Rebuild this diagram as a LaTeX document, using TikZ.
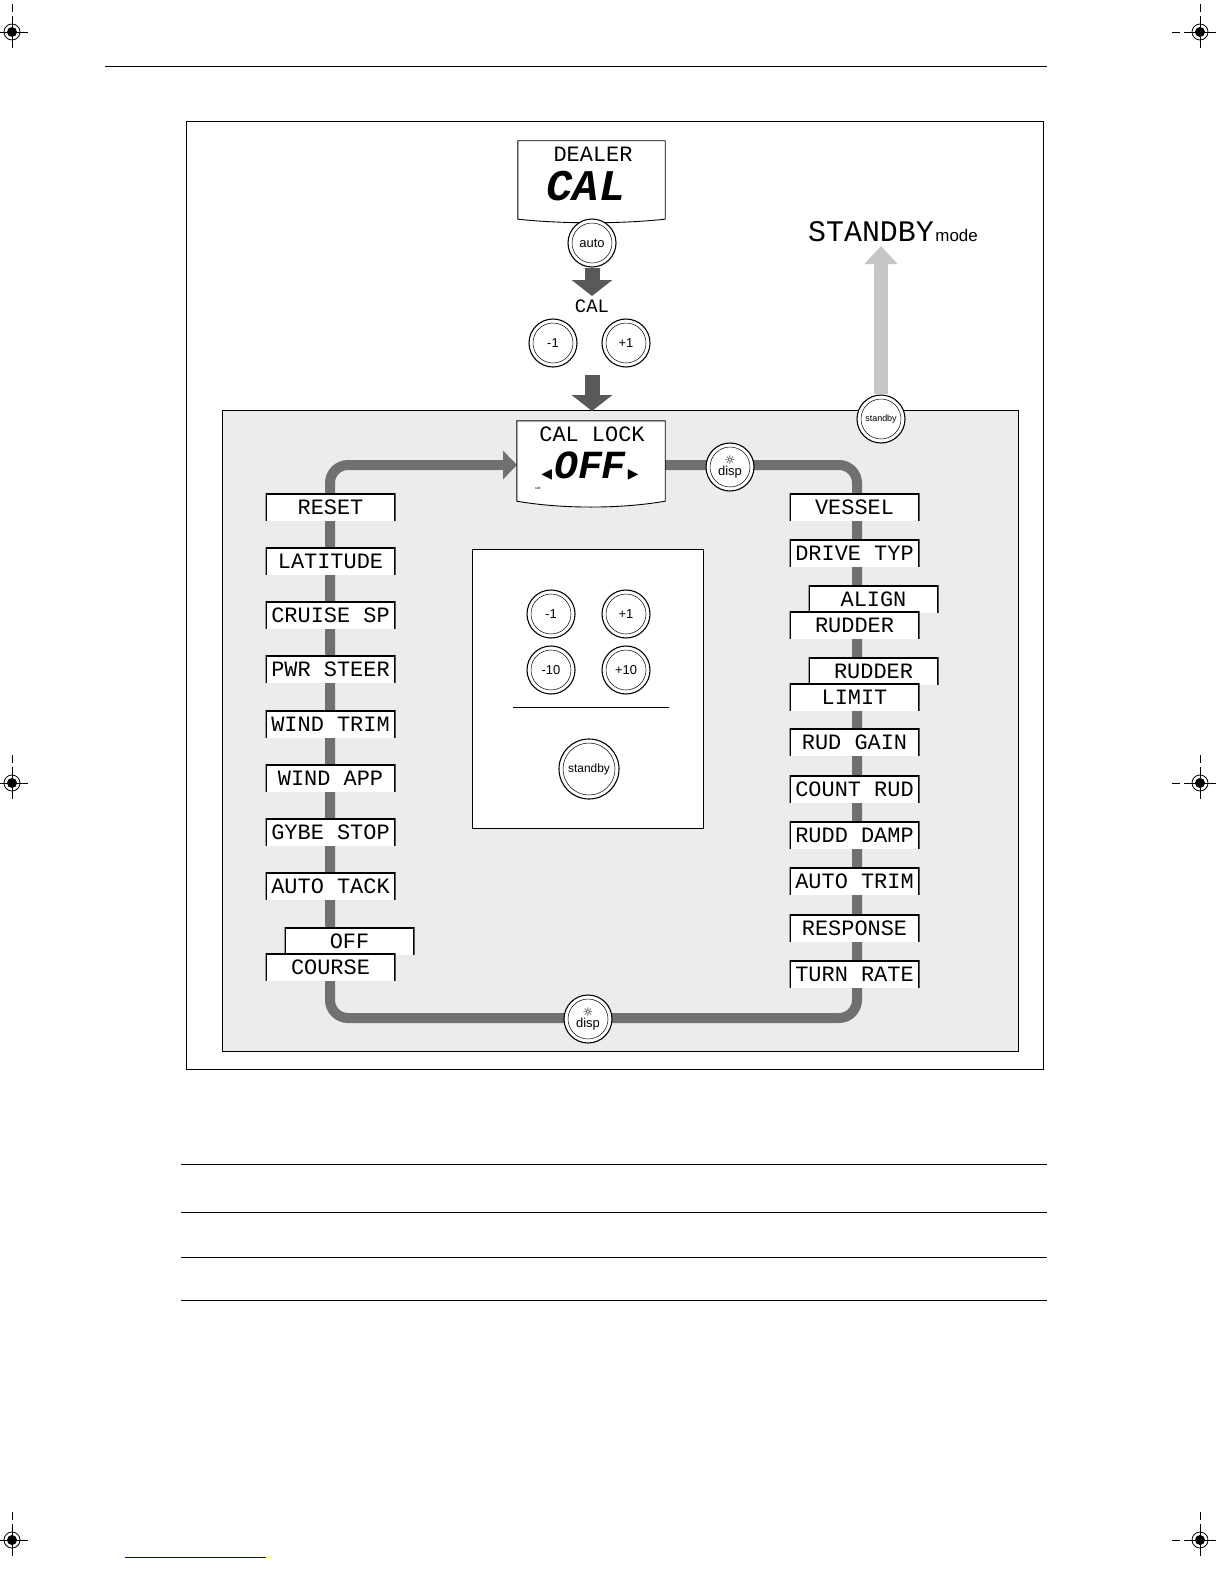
\documentclass[tikz,border=0pt]{standalone}
\usepackage{fontspec}
\setmainfont{Liberation Sans}
\newfontfamily\lcd{Liberation Mono}
\newfontfamily\symf{DejaVu Sans}
\usetikzlibrary{arrows.meta,positioning}
\tikzset{%
lcdbox/.style={minimum width=130bp, minimum height=27bp, inner sep=0pt, fill=white,
  font=\lcd\fontsize{22}{22}\selectfont,
  path picture={\draw[line width=2.4pt] (path picture bounding box.south west) |- (path picture bounding box.north east) -- (path picture bounding box.south east);}},
btn/.style={circle, draw=black, line width=1.1pt, fill=white, minimum size=48bp, inner sep=0pt,
  font=\fontsize{13}{13}\selectfont},
loopline/.style={draw=gray!75!black!90, line width=10bp, rounded corners=18bp},
blockarrow/.style={draw=gray!70!black, line width=15bp, -{Triangle[length=16bp,width=40bp]}},
screen/.style={draw=black, line width=.9pt, fill=white},
regmark/.style={line width=.8pt}
}
\begin{document}
\begin{tikzpicture}[x=1bp,y=-1bp]
\useasboundingbox (0,0) rectangle (1224,1584);
% page furniture
\draw[line width=.8pt] (105,66) -- (1047,66);
\foreach \yy in {1164,1212,1257,1300} \draw[line width=.8pt] (181,\yy) -- (1047,\yy);
\draw[blue!60!black, line width=.8pt] (125,1557) -- (266,1557);
\foreach \xx/\yy in {12/32,1200/32,12/783,1200/783,12/1540,1200/1540}{
  \draw[regmark] (\xx,\yy) circle (8bp);
  \fill (\xx,\yy) circle (5bp);
  \draw[regmark] (\xx-16,\yy) -- (\xx+16,\yy) (\xx,\yy-16) -- (\xx,\yy+16);
  \draw[regmark] (\xx-20,\yy) -- (\xx-28,\yy) (\xx,\yy-20) -- (\xx,\yy-28);
}
\draw[line width=.8pt] (186,121) rectangle (1043,1069);
\fill[gray!15] (222,410) rectangle (1018,1051);
\draw[line width=.8pt] (222,410) rectangle (1018,1051);

% top display
\node (dealer) [minimum width=147bp, minimum height=78bp, inner sep=0pt] at (591.5,180) {};
\draw[screen] (dealer.north west) -- (dealer.north east) -- (dealer.south east)
  .. controls (620,224) and (563,224) .. (dealer.south west) -- cycle;
\node[font=\lcd\fontsize{22}{22}\selectfont] at (593,154) {DEALER};
\node[font=\lcd\bfseries\itshape\fontsize{44}{44}\selectfont] at (586,186) {CAL};
\node[btn] (auto) at (592,243) {auto};
\coordinate (a1) at (592,268);
\coordinate (a2) at (592,296);
\draw[blockarrow] (a1) -- (a2);
\node[font=\lcd\fontsize{19}{19}\selectfont] (caltxt) at (592,306) {CAL};
\node[btn] (minus) at (553,343) {-1};
\node[btn] (plus) at (626,343) {+1};
\coordinate (b1) at (592,375);
\coordinate (b2) at (592,411);
\draw[blockarrow] (b1) -- (b2);

% standby exit
\node[btn] (sby) at (881,419) {\fontsize{9}{9}\selectfont standby};
\coordinate (smode) at (881,246);
\draw[draw=gray!45, line width=14bp, -{Triangle[length=18bp,width=32bp]}] (sby.north) -- (smode);
\node[anchor=west, inner sep=0pt] (stxt) at (808,232) {{\lcd\fontsize{30}{30}\selectfont STANDBY}\,{\fontsize{17}{17}\selectfont mode}};

% loop
\node (lock) [minimum width=148bp, minimum height=80bp, inner sep=0pt] at (591,461) {};
\coordinate (rb) at (857,1018);
\coordinate (lt) at (330,465);
\draw[loopline] (lock.east |- lt) -| (rb) -| (lt) -- (500,465);
\draw[draw=gray!75!black!90, line width=10bp, -{Triangle[length=14bp,width=28bp]}] (500,465) -- (517,465);
\draw[screen] (lock.north west) -- (lock.north east) -- (lock.south east)
  .. controls (620,509) and (562,509) .. (lock.south west) -- cycle;
\node[font=\lcd\fontsize{22}{22}\selectfont] at (592,434) {CAL LOCK};
\node[font=\lcd\bfseries\itshape\fontsize{40}{40}\selectfont] at (590,466) {{\symf\fontsize{14}{14}\selectfont ◀}\kern2bp OFF\kern2bp{\symf\fontsize{14}{14}\selectfont ▶}};
\node[font=\fontsize{4}{4}\selectfont] at (538,488) {cal};
\node[btn] (disp1) at (730,467) {\shortstack{{\symf\fontsize{12}{12}\selectfont ☼}\\[-2pt]disp}};
\node[btn] (disp2) at (588,1019) {\shortstack{{\symf\fontsize{12}{12}\selectfont ☼}\\[-2pt]disp}};

% left column
\node[lcdbox] (reset) at (330.5,507) {RESET};
\node[lcdbox] (lat) at (330.5,561) {LATITUDE};
\node[lcdbox] (cruise) at (330.5,615) {CRUISE SP};
\node[lcdbox] (pwr) at (330.5,669) {PWR STEER};
\node[lcdbox] (wtrim) at (330.5,724) {WIND TRIM};
\node[lcdbox] (wapp) at (330.5,778) {WIND APP};
\node[lcdbox] (gybe) at (330.5,832) {GYBE STOP};
\node[lcdbox] (atack) at (330.5,886) {AUTO TACK};
\node[lcdbox] (off) at (349.5,941) {OFF};
\node[lcdbox] (course) at (330.5,967) {COURSE};

% right column
\node[lcdbox] (vessel) at (854.5,507) {VESSEL};
\node[lcdbox] (drive) at (854.5,553) {DRIVE TYP};
\node[lcdbox] (align) at (873.5,599) {ALIGN};
\node[lcdbox] (rudder) at (854.5,625) {RUDDER};
\node[lcdbox] (rudder2) at (873.5,671) {RUDDER};
\node[lcdbox] (limit) at (854.5,697) {LIMIT};
\node[lcdbox] (rgain) at (854.5,742) {RUD GAIN};
\node[lcdbox] (count) at (854.5,789) {COUNT RUD};
\node[lcdbox] (rdamp) at (854.5,835) {RUDD DAMP};
\node[lcdbox] (atrim) at (854.5,881) {AUTO TRIM};
\node[lcdbox] (resp) at (854.5,928) {RESPONSE};
\node[lcdbox] (trate) at (854.5,974) {TURN RATE};

% key panel
\node (keys) [draw=black, line width=.8pt, fill=white, minimum width=231bp, minimum height=279bp] at (587.5,688.5) {};
\node[btn] (k1) at (551,614) {-1};
\node[btn] (k2) at (626,614) {+1};
\node[btn] (k3) at (551,670) {-10};
\node[btn] (k4) at (626,670) {+10};
\draw[line width=.8pt] (513,707) -- (669,707);
\node[btn, minimum size=60bp] (ksby) at (589,769) {\fontsize{12}{12}\selectfont standby};

% inner rings of the keys
\foreach \b in {auto,minus,plus,sby,disp1,disp2,k1,k2,k3,k4}
  \draw[line width=.5pt] (\b.center) circle (20bp);
\draw[line width=.5pt] (ksby.center) circle (26bp);
\end{tikzpicture}
\end{document}
